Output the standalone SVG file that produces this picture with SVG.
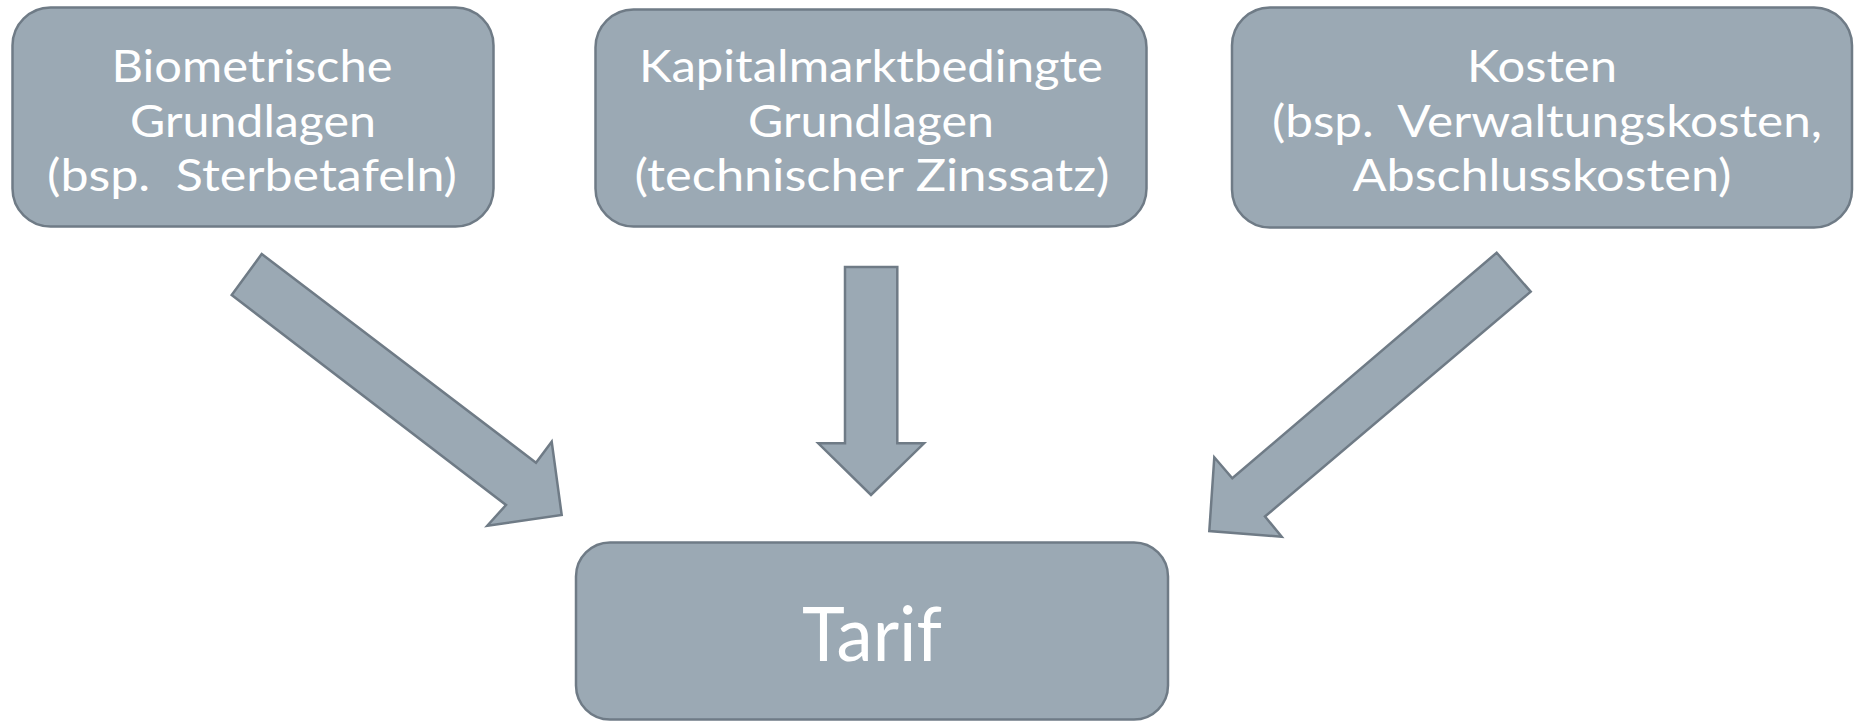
<svg xmlns="http://www.w3.org/2000/svg" width="1855" height="722" viewBox="0 0 1855 722">
  <style>
    .box { fill: #9ba9b4; stroke: #6f7b86; stroke-width: 2.5; }
    .arrow { fill: #9ba9b4; stroke: #6f7b86; stroke-width: 2.5; stroke-linejoin: miter; }
    .label { font-family: Lato, "Open Sans", sans-serif; font-size: 45px; fill: #ffffff; text-anchor: middle; }
    .big { font-size: 76px; }
  </style>
  <rect width="1855" height="722" fill="#ffffff"/>

  <g id="node-biometrie">
    <rect class="box" x="12.5" y="7.5" width="481" height="219" rx="38" ry="38"/>
    <text class="label" x="252" y="82" textLength="281" lengthAdjust="spacingAndGlyphs">Biometrische</text>
    <text class="label" x="253" y="136.5" textLength="246" lengthAdjust="spacingAndGlyphs">Grundlagen</text>
    <text class="label" x="252" y="191" textLength="410" lengthAdjust="spacingAndGlyphs" xml:space="preserve">(bsp.  Sterbetafeln)</text>
  </g>

  <g id="node-kapitalmarkt">
    <rect class="box" x="595.5" y="9.5" width="551" height="217" rx="38" ry="38"/>
    <text class="label" x="871" y="82" textLength="464" lengthAdjust="spacingAndGlyphs">Kapitalmarktbedingte</text>
    <text class="label" x="871" y="136.5" textLength="246" lengthAdjust="spacingAndGlyphs">Grundlagen</text>
    <text class="label" x="872" y="191" textLength="475" lengthAdjust="spacingAndGlyphs">(technischer Zinssatz)</text>
  </g>

  <g id="node-kosten">
    <rect class="box" x="1232" y="7.5" width="620" height="220" rx="38" ry="38"/>
    <text class="label" x="1542" y="82" textLength="150" lengthAdjust="spacingAndGlyphs">Kosten</text>
    <text class="label" x="1547" y="136.5" textLength="550" lengthAdjust="spacingAndGlyphs" xml:space="preserve">(bsp.  Verwaltungskosten,</text>
    <text class="label" x="1542" y="191" textLength="379" lengthAdjust="spacingAndGlyphs">Abschlusskosten)</text>
  </g>

  <g id="node-tarif">
    <rect class="box" x="576" y="542.5" width="592" height="177" rx="34" ry="34"/>
    <text class="label big" x="872" y="661" textLength="140" lengthAdjust="spacingAndGlyphs">Tarif</text>
  </g>

  <g id="connectors">
    <polygon class="arrow" points="261.7,254 536,462.7 551.7,441.7 561.7,515 487.3,525.7 506,505 231.7,295"/>
    <polygon class="arrow" points="845,267 897.3,267 897.3,443.3 924,443.3 871,495 818.3,443.3 845,443.3"/>
    <polygon class="arrow" points="1496.7,252.7 1530.7,291.7 1265,516.5 1281.7,536.7 1209.3,531 1214.3,457.3 1232.3,478.3"/>
  </g>
</svg>
